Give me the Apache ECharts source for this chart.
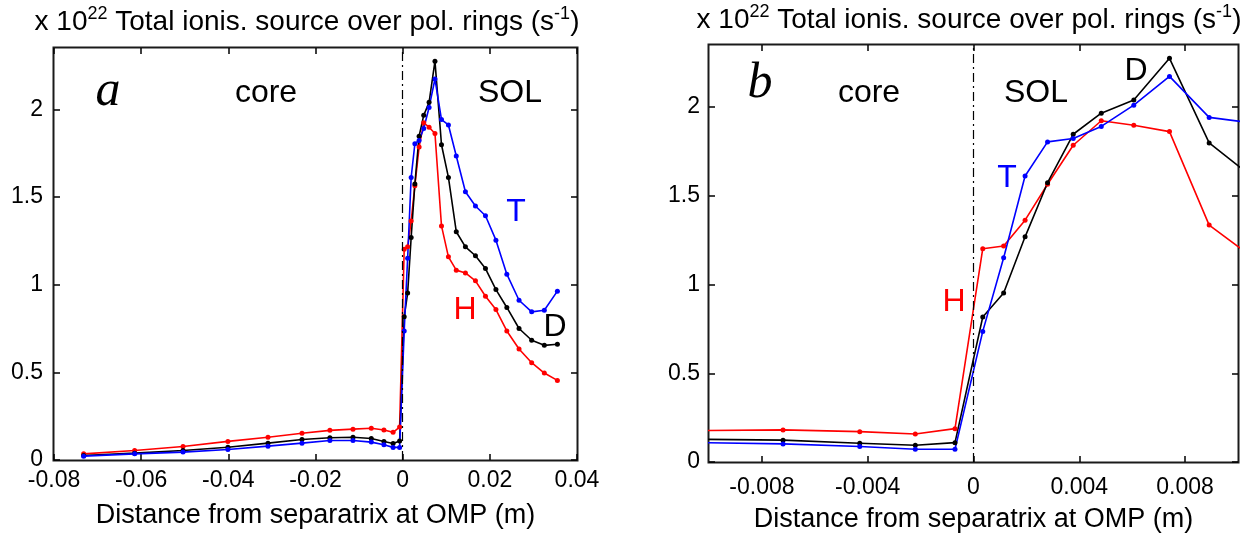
<!DOCTYPE html>
<html>
<head>
<meta charset="utf-8">
<script src="https://cdn.jsdelivr.net/npm/echarts@6/dist/echarts.min.js"></script>
<style>
  html, body { margin: 0; padding: 0; background: #fff; }
  #chart { width: 1254px; height: 541px; }
</style>
</head>
<body>
<div id="chart"></div>
<script>
// distance from separatrix at OMP (m), shared by both panels
const xDist = [-0.0732, -0.0615, -0.0504, -0.0401, -0.0309, -0.0231, -0.0167, -0.0114,
  -0.0072, -0.0043, -0.0022, -0.0007, 0.00035, 0.00114, 0.00195, 0.0028, 0.00377,
  0.00483, 0.00606, 0.00741, 0.00891, 0.0105, 0.0123, 0.0144, 0.0167, 0.019, 0.0214,
  0.0239, 0.0267, 0.0296, 0.0325, 0.0355];
// ionisation source, units of 1e22 s^-1
const ionH = [0.035, 0.054, 0.077, 0.106, 0.130, 0.153, 0.169, 0.176, 0.181, 0.171, 0.158,
  0.188, 1.202, 1.217, 1.363, 1.565, 1.785, 1.923, 1.898, 1.862, 1.335, 1.159, 1.083,
  1.067, 1.022, 0.934, 0.858, 0.736, 0.633, 0.555, 0.496, 0.454];
const ionD = [0.026, 0.039, 0.054, 0.073, 0.096, 0.117, 0.127, 0.130, 0.123, 0.106, 0.094,
  0.109, 0.817, 0.952, 1.269, 1.574, 1.847, 1.966, 2.040, 2.275, 1.798, 1.612, 1.302,
  1.216, 1.165, 1.092, 0.972, 0.870, 0.750, 0.683, 0.654, 0.660];
const ionT = [0.022, 0.035, 0.045, 0.060, 0.079, 0.096, 0.111, 0.111, 0.102, 0.087, 0.072,
  0.072, 0.736, 1.151, 1.612, 1.804, 1.823, 1.891, 2.011, 2.173, 1.942, 1.911, 1.734,
  1.530, 1.449, 1.393, 1.254, 1.060, 0.911, 0.845, 0.854, 0.963];

const yTicks = [0, 0.5, 1, 1.5, 2];
const xTicksA = [-0.08, -0.06, -0.04, -0.02, 0, 0.02, 0.04];
const xTicksB = [-0.008, -0.004, 0, 0.004, 0.008];

const sans = "'Liberation Sans', Arial, sans-serif";
const serif = "'Liberation Serif', 'Times New Roman', serif";

// plot boxes, in px
const boxA = { left: 54, top: 48, width: 523, height: 412 };
const boxB = { left: 709, top: 45, width: 529, height: 417 };

const chart = echarts.init(document.getElementById("chart"));

const xAxisFor = (grid, min, max, ticks, position, withLabels, margin, nameGap) => ({
  type: "value",
  gridIndex: grid,
  position,
  min,
  max,
  name: withLabels ? "Distance from separatrix at OMP (m)" : "",
  nameLocation: "middle",
  nameGap,
  nameTextStyle: { fontFamily: sans, fontSize: 27, color: "#000" },
  axisLine: { show: false, onZero: false },
  axisTick: { show: true, inside: true, length: 6, customValues: ticks, lineStyle: { color: "#000", width: 1.5 } },
  axisLabel: { show: withLabels, customValues: ticks, margin, fontFamily: sans, fontSize: 23, color: "#000" },
  splitLine: { show: false },
});

const yAxisFor = (grid, position, withLabels, margin) => ({
  type: "value",
  gridIndex: grid,
  position,
  min: 0,
  max: 2.35,
  axisLine: { show: false, onZero: false },
  axisTick: { show: true, inside: true, length: 6, customValues: yTicks, lineStyle: { color: "#000", width: 1.5 } },
  axisLabel: { show: withLabels, customValues: yTicks, margin, fontFamily: sans, fontSize: 23, color: "#000" },
  splitLine: { show: false },
});

const makeSeries = (ys, color, xIdx, yIdx, withSep) => {
  const s = {
    type: "line",
    xAxisIndex: xIdx,
    yAxisIndex: yIdx,
    data: xDist.map((x, i) => [x, ys[i]]),
    symbol: "circle",
    symbolSize: 5,
    lineStyle: { color, width: 1.6 },
    itemStyle: { color },
    clip: true,
  };
  if (withSep) {
    s.markLine = {
      silent: true,
      symbol: ["none", "none"],
      label: { show: false },
      lineStyle: { color: "#000", width: 1.2, type: [9, 4, 2, 4] },
      data: [{ xAxis: 0 }],
    };
  }
  return s;
};

const title = (cx, cy) => ({
  type: "text",
  x: cx,
  y: cy,
  style: {
    text: "x 10{sup|22} Total ionis. source over pol. rings (s{sup|-1})",
    fontFamily: sans,
    fontSize: 28,
    fill: "#000",
    align: "center",
    verticalAlign: "middle",
    rich: { sup: { fontSize: 18, padding: [0, 0, 16, 0], fontFamily: sans, fill: "#000" } },
  },
});

// axes box made of two filled rects: dark outer, white inner, both behind the series
const frameOuter = (b) => ({
  type: "rect",
  z: -20,
  silent: true,
  shape: { x: b.left - 1.5, y: b.top - 1.5, width: b.width + 3, height: b.height + 3 },
  style: { fill: "#1a1a1a" },
});
const frameInner = (b) => ({
  type: "rect",
  z: -19,
  silent: true,
  shape: { x: b.left + 0.5, y: b.top + 0.5, width: b.width - 1, height: b.height - 1 },
  style: { fill: "#ffffff" },
});

const label = (text, x, y, color, size, family, italic) => ({
  type: "text",
  x,
  y,
  style: {
    text,
    fill: color,
    fontSize: size,
    fontFamily: family || sans,
    fontStyle: italic ? "italic" : "normal",
    align: "center",
    verticalAlign: "middle",
  },
});

chart.setOption({
  animation: false,
  backgroundColor: "#fff",
  grid: [boxA, boxB],
  xAxis: [
    xAxisFor(0, -0.08, 0.04, xTicksA, "bottom", true, 9, 42),
    xAxisFor(0, -0.08, 0.04, xTicksA, "top", false, 8, 0),
    xAxisFor(1, -0.01, 0.01, xTicksB, "bottom", true, 14, 44),
    xAxisFor(1, -0.01, 0.01, xTicksB, "top", false, 8, 0),
  ],
  yAxis: [
    yAxisFor(0, "left", true, 11),
    yAxisFor(0, "right", false, 8),
    yAxisFor(1, "left", true, 9),
    yAxisFor(1, "right", false, 8),
  ],
  series: [
    makeSeries(ionH, "#ff0000", 0, 0, true),
    makeSeries(ionD, "#000000", 0, 0, false),
    makeSeries(ionT, "#0000ff", 0, 0, false),
    makeSeries(ionH, "#ff0000", 2, 2, true),
    makeSeries(ionD, "#000000", 2, 2, false),
    makeSeries(ionT, "#0000ff", 2, 2, false),
  ],
  graphic: [
    frameOuter(boxA),
    frameInner(boxA),
    frameOuter(boxB),
    frameInner(boxB),
    title(307, 22),
    title(969, 20),
    label("a", 108, 92, "#000", 50, serif, true),
    label("core", 266, 93, "#000", 32),
    label("SOL", 510, 93, "#000", 32),
    label("T", 516, 212, "#0000ff", 32),
    label("H", 465, 310, "#ff0000", 32),
    label("D", 555, 327, "#000", 32),
    label("b", 760, 84, "#000", 50, serif, true),
    label("core", 869, 93, "#000", 32),
    label("SOL", 1036, 93, "#000", 32),
    label("D", 1136, 71, "#000", 32),
    label("T", 1007, 178, "#0000ff", 32),
    label("H", 954, 302, "#ff0000", 32),
  ],
});
</script>
</body>
</html>
